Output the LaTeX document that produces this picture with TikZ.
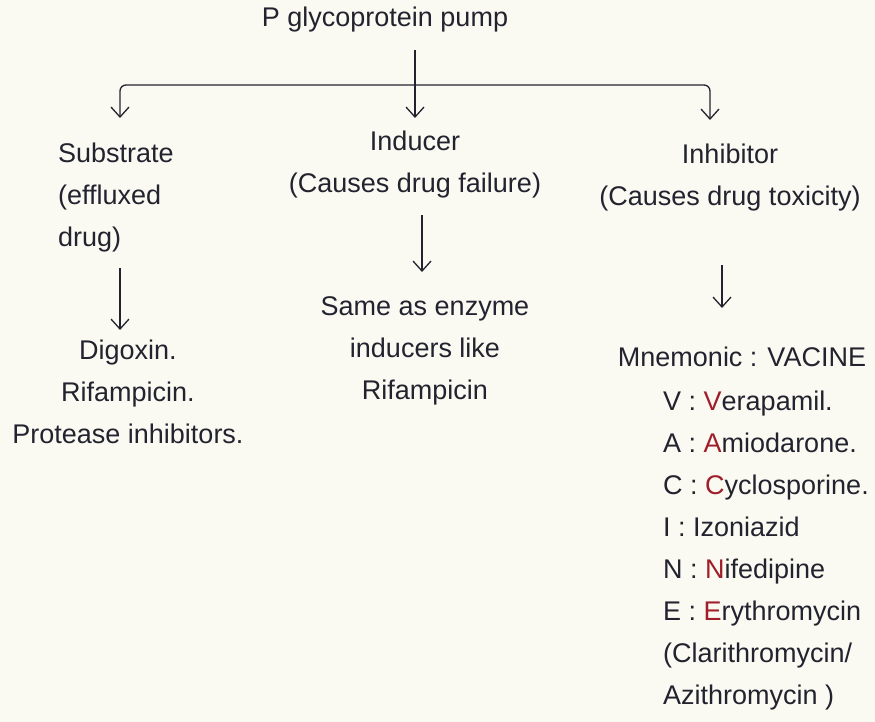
\documentclass[tikz,border=0pt]{standalone}
\usepackage{fontspec}
\setmainfont{Liberation Sans}
\usetikzlibrary{arrows.meta}
\definecolor{paper}{HTML}{FAFAF3}
\definecolor{ink}{HTML}{23232F}
\definecolor{drugred}{HTML}{A01E2A}
\tikzset{
  lbl/.style={inner sep=0pt, text=ink, font=\fontsize{27}{42}\selectfont},
  arr/.style={draw=ink, line width=1.3pt, -{Straight Barb[length=10pt,width=18pt,line width=1.3pt]}},
}
\newcommand{\ini}[1]{\textcolor{drugred}{#1}}
\begin{document}
\begin{tikzpicture}[x=1pt,y=-1pt]
  \fill[paper] (0,0) rectangle (875,722);
  \useasboundingbox (0,0) rectangle (875,722);

  % top of the tree
  \node[lbl, anchor=north] (title) at (385,7) {P glycoprotein pump};
  \coordinate (top) at (415,50);
  \coordinate (split) at (415,85);
  \coordinate (lend) at (120,118);
  \coordinate (mend) at (415,118);
  \coordinate (rend) at (710,120);

  % three branches
  \node[lbl, anchor=north west, align=left] (substrate) at (58,143)
    {Substrate\\(effluxed\\drug)};
  \node[lbl, anchor=north, align=center] (inducer) at (415,131)
    {Inducer\\(Causes drug failure)};
  \node[lbl, anchor=north, align=center] (inhibitor) at (730,144)
    {Inhibitor\\(Causes drug toxicity)};

  % examples under each branch
  \node[lbl, anchor=north, align=center] (subex) at (128,340)
    {Digoxin.\\Rifampicin.\\Protease inhibitors.};
  \node[lbl, anchor=north, align=center] (index) at (425,296)
    {Same as enzyme\\inducers like\\Rifampicin};
  \node[lbl, anchor=north] (mnem) at (742,347) {Mnemonic : VACINE};
  \node[lbl, anchor=north west, align=left] (vacine) at (663,391)
    {V : \ini{V}erapamil.\\
     A : \ini{A}miodarone.\\
     C : \ini{C}yclosporine.\\
     I : Izoniazid\\
     N : \ini{N}ifedipine\\
     E : \ini{E}rythromycin\\
     (Clarithromycin/\\
     Azithromycin )};

  % connectors
  \draw[arr] (top) -- (mend);
  \draw[arr, rounded corners=6pt] (split) -| (lend);
  \draw[arr, rounded corners=6pt] (split) -| (rend);

  \coordinate (s1) at (120,268);
  \coordinate (s2) at (120,330);
  \coordinate (i1) at (422,215);
  \coordinate (i2) at (422,272);
  \coordinate (h1) at (722,265);
  \coordinate (h2) at (722,308);
  \draw[arr] (s1) -- (s2);
  \draw[arr] (i1) -- (i2);
  \draw[arr] (h1) -- (h2);
\end{tikzpicture}
\end{document}
